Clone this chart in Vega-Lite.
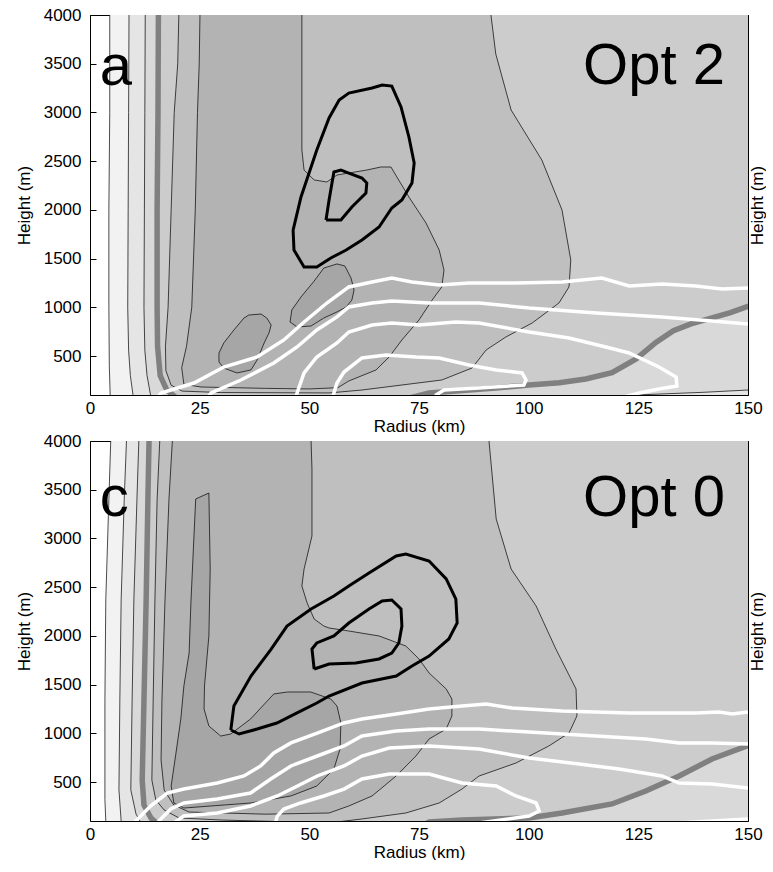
{
"$schema":"https://vega.github.io/schema/vega-lite/v6.json",
"padding":{"left":15,"top":6,"right":0,"bottom":0},
"bounds":"flush","spacing":46,"background":"white",
"config":{"view":{"stroke":null},"font":"Liberation Sans",
"axis":{"domain":true,"domainColor":"black","domainWidth":1,"tickColor":"black","tickSize":-6,"labelFontSize":17,"titleFontSize":17,"labelColor":"black","titleColor":"black","titleFontWeight":"normal","labelFont":"Liberation Sans","titleFont":"Liberation Sans","grid":false,"zindex":1,"labelOverlap":false,"labelFlush":false,"minExtent":0}},
"datasets":{
"fills":[
{"pan":"a","id":"a1","lev":1,"o":0,"x":4.5,"y":4100},{"pan":"a","id":"a1","lev":1,"o":1,"x":4.5,"y":3000},{"pan":"a","id":"a1","lev":1,"o":2,"x":4.3,"y":2000},{"pan":"a","id":"a1","lev":1,"o":3,"x":4.3,"y":1000},{"pan":"a","id":"a1","lev":1,"o":4,"x":4.4,"y":400},{"pan":"a","id":"a1","lev":1,"o":5,"x":4.6,"y":100},{"pan":"a","id":"a1","lev":1,"o":6,"x":4.8,"y":0},{"pan":"a","id":"a1","lev":1,"o":7,"x":160,"y":0},{"pan":"a","id":"a1","lev":1,"o":8,"x":160,"y":4100},
{"pan":"a","id":"a2","lev":2,"o":0,"x":8.9,"y":4100},{"pan":"a","id":"a2","lev":2,"o":1,"x":8.8,"y":3000},{"pan":"a","id":"a2","lev":2,"o":2,"x":8.7,"y":2000},{"pan":"a","id":"a2","lev":2,"o":3,"x":8.6,"y":1000},{"pan":"a","id":"a2","lev":2,"o":4,"x":8.8,"y":560},{"pan":"a","id":"a2","lev":2,"o":5,"x":9.2,"y":300},{"pan":"a","id":"a2","lev":2,"o":6,"x":9.8,"y":100},{"pan":"a","id":"a2","lev":2,"o":7,"x":10.3,"y":0},{"pan":"a","id":"a2","lev":2,"o":8,"x":160,"y":0},{"pan":"a","id":"a2","lev":2,"o":9,"x":160,"y":4100},
{"pan":"a","id":"a3","lev":3,"o":0,"x":12.6,"y":4100},{"pan":"a","id":"a3","lev":3,"o":1,"x":12.5,"y":3000},{"pan":"a","id":"a3","lev":3,"o":2,"x":12.4,"y":2000},{"pan":"a","id":"a3","lev":3,"o":3,"x":12.3,"y":1000},{"pan":"a","id":"a3","lev":3,"o":4,"x":12.5,"y":560},{"pan":"a","id":"a3","lev":3,"o":5,"x":13.0,"y":300},{"pan":"a","id":"a3","lev":3,"o":6,"x":13.8,"y":100},{"pan":"a","id":"a3","lev":3,"o":7,"x":14.5,"y":0},{"pan":"a","id":"a3","lev":3,"o":8,"x":160,"y":0},{"pan":"a","id":"a3","lev":3,"o":9,"x":160,"y":4100},
{"pan":"a","id":"a3h","lev":2,"o":0,"x":122,"y":0},{"pan":"a","id":"a3h","lev":2,"o":1,"x":124.5,"y":100},{"pan":"a","id":"a3h","lev":2,"o":2,"x":130,"y":110},{"pan":"a","id":"a3h","lev":2,"o":3,"x":140,"y":128},{"pan":"a","id":"a3h","lev":2,"o":4,"x":150,"y":151},{"pan":"a","id":"a3h","lev":2,"o":5,"x":160,"y":160},{"pan":"a","id":"a3h","lev":2,"o":6,"x":160,"y":0},
{"pan":"a","id":"a4","lev":4,"o":0,"x":15.6,"y":4100},{"pan":"a","id":"a4","lev":4,"o":1,"x":15.5,"y":3000},{"pan":"a","id":"a4","lev":4,"o":2,"x":15.3,"y":2000},{"pan":"a","id":"a4","lev":4,"o":3,"x":15.3,"y":1000},{"pan":"a","id":"a4","lev":4,"o":4,"x":15.4,"y":600},{"pan":"a","id":"a4","lev":4,"o":5,"x":16.0,"y":300},{"pan":"a","id":"a4","lev":4,"o":6,"x":17.5,"y":150},{"pan":"a","id":"a4","lev":4,"o":7,"x":20,"y":60},{"pan":"a","id":"a4","lev":4,"o":8,"x":40,"y":40},{"pan":"a","id":"a4","lev":4,"o":9,"x":72,"y":60},{"pan":"a","id":"a4","lev":4,"o":10,"x":77.3,"y":121},{"pan":"a","id":"a4","lev":4,"o":11,"x":85,"y":145},{"pan":"a","id":"a4","lev":4,"o":12,"x":92.5,"y":172},{"pan":"a","id":"a4","lev":4,"o":13,"x":100.1,"y":203},{"pan":"a","id":"a4","lev":4,"o":14,"x":107,"y":225},{"pan":"a","id":"a4","lev":4,"o":15,"x":113,"y":265},{"pan":"a","id":"a4","lev":4,"o":16,"x":119,"y":330},{"pan":"a","id":"a4","lev":4,"o":17,"x":124.5,"y":470},{"pan":"a","id":"a4","lev":4,"o":18,"x":129,"y":640},{"pan":"a","id":"a4","lev":4,"o":19,"x":133,"y":760},{"pan":"a","id":"a4","lev":4,"o":20,"x":137,"y":830},{"pan":"a","id":"a4","lev":4,"o":21,"x":142,"y":895},{"pan":"a","id":"a4","lev":4,"o":22,"x":146,"y":945},{"pan":"a","id":"a4","lev":4,"o":23,"x":150,"y":1010},{"pan":"a","id":"a4","lev":4,"o":24,"x":160,"y":1100},{"pan":"a","id":"a4","lev":4,"o":25,"x":160,"y":4100},
{"pan":"a","id":"a5","lev":5,"o":0,"x":20.3,"y":4100},{"pan":"a","id":"a5","lev":5,"o":1,"x":20.0,"y":3500},{"pan":"a","id":"a5","lev":5,"o":2,"x":19.2,"y":3000},{"pan":"a","id":"a5","lev":5,"o":3,"x":18.5,"y":2000},{"pan":"a","id":"a5","lev":5,"o":4,"x":17.8,"y":1000},{"pan":"a","id":"a5","lev":5,"o":5,"x":17.2,"y":600},{"pan":"a","id":"a5","lev":5,"o":6,"x":17.3,"y":350},{"pan":"a","id":"a5","lev":5,"o":7,"x":18.5,"y":200},{"pan":"a","id":"a5","lev":5,"o":8,"x":21,"y":140},{"pan":"a","id":"a5","lev":5,"o":9,"x":30,"y":125},{"pan":"a","id":"a5","lev":5,"o":10,"x":54.5,"y":121},{"pan":"a","id":"a5","lev":5,"o":11,"x":62.0,"y":151},{"pan":"a","id":"a5","lev":5,"o":12,"x":80.2,"y":254},{"pan":"a","id":"a5","lev":5,"o":13,"x":87.1,"y":377},{"pan":"a","id":"a5","lev":5,"o":14,"x":90.3,"y":562},{"pan":"a","id":"a5","lev":5,"o":15,"x":94.8,"y":695},{"pan":"a","id":"a5","lev":5,"o":16,"x":100.8,"y":839},{"pan":"a","id":"a5","lev":5,"o":17,"x":106.9,"y":1044},{"pan":"a","id":"a5","lev":5,"o":18,"x":109.2,"y":1209},{"pan":"a","id":"a5","lev":5,"o":19,"x":109.6,"y":1486},{"pan":"a","id":"a5","lev":5,"o":20,"x":107.6,"y":1999},{"pan":"a","id":"a5","lev":5,"o":21,"x":103.0,"y":2512},{"pan":"a","id":"a5","lev":5,"o":22,"x":96.0,"y":3025},{"pan":"a","id":"a5","lev":5,"o":23,"x":92.5,"y":3600},{"pan":"a","id":"a5","lev":5,"o":24,"x":91.4,"y":4000},{"pan":"a","id":"a5","lev":5,"o":25,"x":91.3,"y":4100},
{"pan":"a","id":"a6","lev":6,"o":0,"x":25.1,"y":4100},{"pan":"a","id":"a6","lev":6,"o":1,"x":24.9,"y":3500},{"pan":"a","id":"a6","lev":6,"o":2,"x":24.5,"y":3000},{"pan":"a","id":"a6","lev":6,"o":3,"x":24.0,"y":2000},{"pan":"a","id":"a6","lev":6,"o":4,"x":23.2,"y":1000},{"pan":"a","id":"a6","lev":6,"o":5,"x":22.0,"y":600},{"pan":"a","id":"a6","lev":6,"o":6,"x":20.9,"y":380},{"pan":"a","id":"a6","lev":6,"o":7,"x":21.4,"y":210},{"pan":"a","id":"a6","lev":6,"o":8,"x":25.3,"y":182},{"pan":"a","id":"a6","lev":6,"o":9,"x":40,"y":168},{"pan":"a","id":"a6","lev":6,"o":10,"x":50,"y":162},{"pan":"a","id":"a6","lev":6,"o":11,"x":56.5,"y":175},{"pan":"a","id":"a6","lev":6,"o":12,"x":59.0,"y":244},{"pan":"a","id":"a6","lev":6,"o":13,"x":65.2,"y":357},{"pan":"a","id":"a6","lev":6,"o":14,"x":68.2,"y":490},{"pan":"a","id":"a6","lev":6,"o":15,"x":71.1,"y":665},{"pan":"a","id":"a6","lev":6,"o":16,"x":75.0,"y":870},{"pan":"a","id":"a6","lev":6,"o":17,"x":78.0,"y":1075},{"pan":"a","id":"a6","lev":6,"o":18,"x":80.2,"y":1209},{"pan":"a","id":"a6","lev":6,"o":19,"x":80.7,"y":1383},{"pan":"a","id":"a6","lev":6,"o":20,"x":79.6,"y":1588},{"pan":"a","id":"a6","lev":6,"o":21,"x":76.6,"y":1865},{"pan":"a","id":"a6","lev":6,"o":22,"x":72.7,"y":2132},{"pan":"a","id":"a6","lev":6,"o":23,"x":68.6,"y":2440},{"pan":"a","id":"a6","lev":6,"o":24,"x":66.3,"y":2440},{"pan":"a","id":"a6","lev":6,"o":25,"x":63.1,"y":2409},{"pan":"a","id":"a6","lev":6,"o":26,"x":56.3,"y":2358},{"pan":"a","id":"a6","lev":6,"o":27,"x":54.0,"y":2286},{"pan":"a","id":"a6","lev":6,"o":28,"x":51.1,"y":2307},{"pan":"a","id":"a6","lev":6,"o":29,"x":48.8,"y":2409},{"pan":"a","id":"a6","lev":6,"o":30,"x":48.3,"y":2614},{"pan":"a","id":"a6","lev":6,"o":31,"x":48.3,"y":4000},{"pan":"a","id":"a6","lev":6,"o":32,"x":48.3,"y":4100},
{"pan":"a","id":"a7a","lev":7,"o":0,"x":29.4,"y":531},{"pan":"a","id":"a7a","lev":7,"o":1,"x":30.5,"y":634},{"pan":"a","id":"a7a","lev":7,"o":2,"x":32.8,"y":767},{"pan":"a","id":"a7a","lev":7,"o":3,"x":35.1,"y":890},{"pan":"a","id":"a7a","lev":7,"o":4,"x":36.2,"y":921},{"pan":"a","id":"a7a","lev":7,"o":5,"x":39.0,"y":931},{"pan":"a","id":"a7a","lev":7,"o":6,"x":40.3,"y":890},{"pan":"a","id":"a7a","lev":7,"o":7,"x":41.3,"y":818},{"pan":"a","id":"a7a","lev":7,"o":8,"x":40.8,"y":736},{"pan":"a","id":"a7a","lev":7,"o":9,"x":39.7,"y":634},{"pan":"a","id":"a7a","lev":7,"o":10,"x":38.1,"y":459},{"pan":"a","id":"a7a","lev":7,"o":11,"x":36.7,"y":357},{"pan":"a","id":"a7a","lev":7,"o":12,"x":33.5,"y":326},{"pan":"a","id":"a7a","lev":7,"o":13,"x":30.5,"y":377},{"pan":"a","id":"a7a","lev":7,"o":14,"x":29.4,"y":439},{"pan":"a","id":"a7a","lev":7,"o":15,"x":29.4,"y":531},
{"pan":"a","id":"a7b","lev":7,"o":0,"x":45.6,"y":849},{"pan":"a","id":"a7b","lev":7,"o":1,"x":46.0,"y":972},{"pan":"a","id":"a7b","lev":7,"o":2,"x":48.1,"y":1106},{"pan":"a","id":"a7b","lev":7,"o":3,"x":51.1,"y":1270},{"pan":"a","id":"a7b","lev":7,"o":4,"x":53.3,"y":1403},{"pan":"a","id":"a7b","lev":7,"o":5,"x":56.3,"y":1445},{"pan":"a","id":"a7b","lev":7,"o":6,"x":58.1,"y":1424},{"pan":"a","id":"a7b","lev":7,"o":7,"x":59.5,"y":1301},{"pan":"a","id":"a7b","lev":7,"o":8,"x":60.2,"y":1178},{"pan":"a","id":"a7b","lev":7,"o":9,"x":59.7,"y":1075},{"pan":"a","id":"a7b","lev":7,"o":10,"x":58.4,"y":1003},{"pan":"a","id":"a7b","lev":7,"o":11,"x":56.3,"y":952},{"pan":"a","id":"a7b","lev":7,"o":12,"x":53.3,"y":890},{"pan":"a","id":"a7b","lev":7,"o":13,"x":50.4,"y":808},{"pan":"a","id":"a7b","lev":7,"o":14,"x":47.2,"y":798},{"pan":"a","id":"a7b","lev":7,"o":15,"x":45.6,"y":849},
{"pan":"c","id":"c1","lev":1,"o":0,"x":4.8,"y":4100},{"pan":"c","id":"c1","lev":1,"o":1,"x":4.3,"y":3400},{"pan":"c","id":"c1","lev":1,"o":2,"x":3.6,"y":2370},{"pan":"c","id":"c1","lev":1,"o":3,"x":3.4,"y":1340},{"pan":"c","id":"c1","lev":1,"o":4,"x":3.4,"y":320},{"pan":"c","id":"c1","lev":1,"o":5,"x":3.6,"y":100},{"pan":"c","id":"c1","lev":1,"o":6,"x":3.8,"y":0},{"pan":"c","id":"c1","lev":1,"o":7,"x":160,"y":0},{"pan":"c","id":"c1","lev":1,"o":8,"x":160,"y":4100},
{"pan":"c","id":"c2","lev":2,"o":0,"x":8.4,"y":4100},{"pan":"c","id":"c2","lev":2,"o":1,"x":7.8,"y":3400},{"pan":"c","id":"c2","lev":2,"o":2,"x":7.1,"y":2370},{"pan":"c","id":"c2","lev":2,"o":3,"x":6.8,"y":1340},{"pan":"c","id":"c2","lev":2,"o":4,"x":6.6,"y":420},{"pan":"c","id":"c2","lev":2,"o":5,"x":7.1,"y":100},{"pan":"c","id":"c2","lev":2,"o":6,"x":7.5,"y":0},{"pan":"c","id":"c2","lev":2,"o":7,"x":160,"y":0},{"pan":"c","id":"c2","lev":2,"o":8,"x":160,"y":4100},
{"pan":"c","id":"c3","lev":3,"o":0,"x":11.2,"y":4100},{"pan":"c","id":"c3","lev":3,"o":1,"x":10.7,"y":3400},{"pan":"c","id":"c3","lev":3,"o":2,"x":10.0,"y":2370},{"pan":"c","id":"c3","lev":3,"o":3,"x":9.6,"y":1340},{"pan":"c","id":"c3","lev":3,"o":4,"x":9.3,"y":420},{"pan":"c","id":"c3","lev":3,"o":5,"x":10.5,"y":170},{"pan":"c","id":"c3","lev":3,"o":6,"x":11.4,"y":100},{"pan":"c","id":"c3","lev":3,"o":7,"x":12.5,"y":0},{"pan":"c","id":"c3","lev":3,"o":8,"x":160,"y":0},{"pan":"c","id":"c3","lev":3,"o":9,"x":160,"y":4100},
{"pan":"c","id":"c4","lev":4,"o":0,"x":13.5,"y":4100},{"pan":"c","id":"c4","lev":4,"o":1,"x":13.2,"y":3400},{"pan":"c","id":"c4","lev":4,"o":2,"x":12.8,"y":2370},{"pan":"c","id":"c4","lev":4,"o":3,"x":12.3,"y":1340},{"pan":"c","id":"c4","lev":4,"o":4,"x":11.9,"y":520},{"pan":"c","id":"c4","lev":4,"o":5,"x":12.3,"y":265},{"pan":"c","id":"c4","lev":4,"o":6,"x":13.9,"y":130},{"pan":"c","id":"c4","lev":4,"o":7,"x":15.7,"y":60},{"pan":"c","id":"c4","lev":4,"o":8,"x":30,"y":40},{"pan":"c","id":"c4","lev":4,"o":9,"x":76,"y":60},{"pan":"c","id":"c4","lev":4,"o":10,"x":77.3,"y":90},{"pan":"c","id":"c4","lev":4,"o":11,"x":84.8,"y":110},{"pan":"c","id":"c4","lev":4,"o":12,"x":100.1,"y":131},{"pan":"c","id":"c4","lev":4,"o":13,"x":107.6,"y":182},{"pan":"c","id":"c4","lev":4,"o":14,"x":119.0,"y":275},{"pan":"c","id":"c4","lev":4,"o":15,"x":126.7,"y":408},{"pan":"c","id":"c4","lev":4,"o":16,"x":134.3,"y":562},{"pan":"c","id":"c4","lev":4,"o":17,"x":141.8,"y":736},{"pan":"c","id":"c4","lev":4,"o":18,"x":149.8,"y":870},{"pan":"c","id":"c4","lev":4,"o":19,"x":155,"y":950},{"pan":"c","id":"c4","lev":4,"o":20,"x":160,"y":1000},{"pan":"c","id":"c4","lev":4,"o":21,"x":160,"y":4100},
{"pan":"c","id":"c5","lev":5,"o":0,"x":16.0,"y":4100},{"pan":"c","id":"c5","lev":5,"o":1,"x":15.3,"y":3400},{"pan":"c","id":"c5","lev":5,"o":2,"x":14.8,"y":2370},{"pan":"c","id":"c5","lev":5,"o":3,"x":14.4,"y":1340},{"pan":"c","id":"c5","lev":5,"o":4,"x":14.1,"y":520},{"pan":"c","id":"c5","lev":5,"o":5,"x":15.0,"y":316},{"pan":"c","id":"c5","lev":5,"o":6,"x":16.9,"y":213},{"pan":"c","id":"c5","lev":5,"o":7,"x":20.3,"y":131},{"pan":"c","id":"c5","lev":5,"o":8,"x":30,"y":110},{"pan":"c","id":"c5","lev":5,"o":9,"x":54.5,"y":80},{"pan":"c","id":"c5","lev":5,"o":10,"x":62.0,"y":121},{"pan":"c","id":"c5","lev":5,"o":11,"x":72.0,"y":182},{"pan":"c","id":"c5","lev":5,"o":12,"x":79.6,"y":285},{"pan":"c","id":"c5","lev":5,"o":13,"x":84.8,"y":428},{"pan":"c","id":"c5","lev":5,"o":14,"x":88.7,"y":562},{"pan":"c","id":"c5","lev":5,"o":15,"x":97.1,"y":695},{"pan":"c","id":"c5","lev":5,"o":16,"x":104.6,"y":870},{"pan":"c","id":"c5","lev":5,"o":17,"x":109.2,"y":1003},{"pan":"c","id":"c5","lev":5,"o":18,"x":111.0,"y":1178},{"pan":"c","id":"c5","lev":5,"o":19,"x":110.8,"y":1455},{"pan":"c","id":"c5","lev":5,"o":20,"x":106.2,"y":1865},{"pan":"c","id":"c5","lev":5,"o":21,"x":101.7,"y":2307},{"pan":"c","id":"c5","lev":5,"o":22,"x":96.0,"y":2686},{"pan":"c","id":"c5","lev":5,"o":23,"x":92.6,"y":3199},{"pan":"c","id":"c5","lev":5,"o":24,"x":91.0,"y":3979},{"pan":"c","id":"c5","lev":5,"o":25,"x":90.9,"y":4100},
{"pan":"c","id":"c6","lev":6,"o":0,"x":18.9,"y":4100},{"pan":"c","id":"c6","lev":6,"o":1,"x":18.0,"y":3400},{"pan":"c","id":"c6","lev":6,"o":2,"x":17.1,"y":2370},{"pan":"c","id":"c6","lev":6,"o":3,"x":16.4,"y":1340},{"pan":"c","id":"c6","lev":6,"o":4,"x":16.2,"y":726},{"pan":"c","id":"c6","lev":6,"o":5,"x":16.9,"y":418},{"pan":"c","id":"c6","lev":6,"o":6,"x":19.1,"y":264},{"pan":"c","id":"c6","lev":6,"o":7,"x":22.6,"y":192},{"pan":"c","id":"c6","lev":6,"o":8,"x":40,"y":170},{"pan":"c","id":"c6","lev":6,"o":9,"x":54.5,"y":182},{"pan":"c","id":"c6","lev":6,"o":10,"x":59.0,"y":254},{"pan":"c","id":"c6","lev":6,"o":11,"x":64.3,"y":357},{"pan":"c","id":"c6","lev":6,"o":12,"x":69.8,"y":562},{"pan":"c","id":"c6","lev":6,"o":13,"x":74.3,"y":767},{"pan":"c","id":"c6","lev":6,"o":14,"x":77.3,"y":942},{"pan":"c","id":"c6","lev":6,"o":15,"x":81.2,"y":1044},{"pan":"c","id":"c6","lev":6,"o":16,"x":82.5,"y":1178},{"pan":"c","id":"c6","lev":6,"o":17,"x":82.5,"y":1352},{"pan":"c","id":"c6","lev":6,"o":18,"x":81.2,"y":1455},{"pan":"c","id":"c6","lev":6,"o":19,"x":77.3,"y":1619},{"pan":"c","id":"c6","lev":6,"o":20,"x":75.0,"y":1763},{"pan":"c","id":"c6","lev":6,"o":21,"x":72.0,"y":1896},{"pan":"c","id":"c6","lev":6,"o":22,"x":65.9,"y":1999},{"pan":"c","id":"c6","lev":6,"o":23,"x":59.0,"y":2050},{"pan":"c","id":"c6","lev":6,"o":24,"x":54.5,"y":2081},{"pan":"c","id":"c6","lev":6,"o":25,"x":53.3,"y":2101},{"pan":"c","id":"c6","lev":6,"o":26,"x":51.1,"y":2173},{"pan":"c","id":"c6","lev":6,"o":27,"x":49.5,"y":2338},{"pan":"c","id":"c6","lev":6,"o":28,"x":48.3,"y":2512},{"pan":"c","id":"c6","lev":6,"o":29,"x":48.8,"y":2686},{"pan":"c","id":"c6","lev":6,"o":30,"x":50.6,"y":3025},{"pan":"c","id":"c6","lev":6,"o":31,"x":50.6,"y":3713},{"pan":"c","id":"c6","lev":6,"o":32,"x":50.4,"y":4000},{"pan":"c","id":"c6","lev":6,"o":33,"x":50.4,"y":4100},
{"pan":"c","id":"c7","lev":7,"o":0,"x":24.1,"y":3405},{"pan":"c","id":"c7","lev":7,"o":1,"x":27.1,"y":3466},{"pan":"c","id":"c7","lev":7,"o":2,"x":27.4,"y":2686},{"pan":"c","id":"c7","lev":7,"o":3,"x":27.1,"y":1999},{"pan":"c","id":"c7","lev":7,"o":4,"x":26.1,"y":1486},{"pan":"c","id":"c7","lev":7,"o":5,"x":26.0,"y":1250},{"pan":"c","id":"c7","lev":7,"o":6,"x":27.1,"y":1075},{"pan":"c","id":"c7","lev":7,"o":7,"x":29.8,"y":972},{"pan":"c","id":"c7","lev":7,"o":8,"x":32.1,"y":993},{"pan":"c","id":"c7","lev":7,"o":9,"x":36.6,"y":1147},{"pan":"c","id":"c7","lev":7,"o":10,"x":41.9,"y":1404},{"pan":"c","id":"c7","lev":7,"o":11,"x":45.0,"y":1424},{"pan":"c","id":"c7","lev":7,"o":12,"x":50.3,"y":1424},{"pan":"c","id":"c7","lev":7,"o":13,"x":54.9,"y":1352},{"pan":"c","id":"c7","lev":7,"o":14,"x":56.3,"y":1280},{"pan":"c","id":"c7","lev":7,"o":15,"x":57.2,"y":1106},{"pan":"c","id":"c7","lev":7,"o":16,"x":57.0,"y":839},{"pan":"c","id":"c7","lev":7,"o":17,"x":55.6,"y":634},{"pan":"c","id":"c7","lev":7,"o":18,"x":51.7,"y":459},{"pan":"c","id":"c7","lev":7,"o":19,"x":45.8,"y":357},{"pan":"c","id":"c7","lev":7,"o":20,"x":36.7,"y":285},{"pan":"c","id":"c7","lev":7,"o":21,"x":27.6,"y":254},{"pan":"c","id":"c7","lev":7,"o":22,"x":21.4,"y":233},{"pan":"c","id":"c7","lev":7,"o":23,"x":19.1,"y":285},{"pan":"c","id":"c7","lev":7,"o":24,"x":18.5,"y":459},{"pan":"c","id":"c7","lev":7,"o":25,"x":19.6,"y":798},{"pan":"c","id":"c7","lev":7,"o":26,"x":20.7,"y":1147},{"pan":"c","id":"c7","lev":7,"o":27,"x":21.4,"y":1486},{"pan":"c","id":"c7","lev":7,"o":28,"x":22.6,"y":1824},{"pan":"c","id":"c7","lev":7,"o":29,"x":23.0,"y":2338},{"pan":"c","id":"c7","lev":7,"o":30,"x":23.7,"y":3025},{"pan":"c","id":"c7","lev":7,"o":31,"x":24.1,"y":3405}
],
"lines":[
{"pan":"a","id":"ga1","k":"g","o":0,"x":15.6,"y":4100},{"pan":"a","id":"ga1","k":"g","o":1,"x":15.5,"y":3000},{"pan":"a","id":"ga1","k":"g","o":2,"x":15.3,"y":2000},{"pan":"a","id":"ga1","k":"g","o":3,"x":15.3,"y":1000},{"pan":"a","id":"ga1","k":"g","o":4,"x":15.4,"y":600},{"pan":"a","id":"ga1","k":"g","o":5,"x":16.0,"y":300},{"pan":"a","id":"ga1","k":"g","o":6,"x":17.5,"y":150},{"pan":"a","id":"ga1","k":"g","o":7,"x":20,"y":60},
{"pan":"a","id":"ga2","k":"g","o":0,"x":72,"y":60},{"pan":"a","id":"ga2","k":"g","o":1,"x":77.3,"y":121},{"pan":"a","id":"ga2","k":"g","o":2,"x":85,"y":145},{"pan":"a","id":"ga2","k":"g","o":3,"x":92.5,"y":172},{"pan":"a","id":"ga2","k":"g","o":4,"x":100.1,"y":203},{"pan":"a","id":"ga2","k":"g","o":5,"x":107,"y":225},{"pan":"a","id":"ga2","k":"g","o":6,"x":113,"y":265},{"pan":"a","id":"ga2","k":"g","o":7,"x":119,"y":330},{"pan":"a","id":"ga2","k":"g","o":8,"x":124.5,"y":470},{"pan":"a","id":"ga2","k":"g","o":9,"x":129,"y":640},{"pan":"a","id":"ga2","k":"g","o":10,"x":133,"y":760},{"pan":"a","id":"ga2","k":"g","o":11,"x":137,"y":830},{"pan":"a","id":"ga2","k":"g","o":12,"x":142,"y":895},{"pan":"a","id":"ga2","k":"g","o":13,"x":146,"y":945},{"pan":"a","id":"ga2","k":"g","o":14,"x":150,"y":1010},{"pan":"a","id":"ga2","k":"g","o":15,"x":153,"y":1050},
{"pan":"a","id":"ba1","k":"b","o":0,"x":46.3,"y":1793},{"pan":"a","id":"ba1","k":"b","o":1,"x":46.5,"y":1588},{"pan":"a","id":"ba1","k":"b","o":2,"x":48.8,"y":1414},{"pan":"a","id":"ba1","k":"b","o":3,"x":51.7,"y":1414},{"pan":"a","id":"ba1","k":"b","o":4,"x":54.9,"y":1506},{"pan":"a","id":"ba1","k":"b","o":5,"x":58.4,"y":1588},{"pan":"a","id":"ba1","k":"b","o":6,"x":62.0,"y":1691},{"pan":"a","id":"ba1","k":"b","o":7,"x":65.9,"y":1824},{"pan":"a","id":"ba1","k":"b","o":8,"x":68.8,"y":2019},{"pan":"a","id":"ba1","k":"b","o":9,"x":71.1,"y":2101},{"pan":"a","id":"ba1","k":"b","o":10,"x":73.4,"y":2276},{"pan":"a","id":"ba1","k":"b","o":11,"x":73.9,"y":2481},{"pan":"a","id":"ba1","k":"b","o":12,"x":72.7,"y":2748},{"pan":"a","id":"ba1","k":"b","o":13,"x":70.9,"y":3056},{"pan":"a","id":"ba1","k":"b","o":14,"x":68.8,"y":3271},{"pan":"a","id":"ba1","k":"b","o":15,"x":66.6,"y":3282},{"pan":"a","id":"ba1","k":"b","o":16,"x":64.3,"y":3251},{"pan":"a","id":"ba1","k":"b","o":17,"x":59.0,"y":3199},{"pan":"a","id":"ba1","k":"b","o":18,"x":56.8,"y":3128},{"pan":"a","id":"ba1","k":"b","o":19,"x":54.5,"y":2943},{"pan":"a","id":"ba1","k":"b","o":20,"x":51.7,"y":2614},{"pan":"a","id":"ba1","k":"b","o":21,"x":48.1,"y":2132},{"pan":"a","id":"ba1","k":"b","o":22,"x":46.3,"y":1793},
{"pan":"a","id":"ba2","k":"b","o":0,"x":53.8,"y":1896},{"pan":"a","id":"ba2","k":"b","o":1,"x":54.5,"y":2101},{"pan":"a","id":"ba2","k":"b","o":2,"x":55.6,"y":2389},{"pan":"a","id":"ba2","k":"b","o":3,"x":57.2,"y":2409},{"pan":"a","id":"ba2","k":"b","o":4,"x":59.0,"y":2378},{"pan":"a","id":"ba2","k":"b","o":5,"x":62.0,"y":2327},{"pan":"a","id":"ba2","k":"b","o":6,"x":63.1,"y":2276},{"pan":"a","id":"ba2","k":"b","o":7,"x":62.9,"y":2173},{"pan":"a","id":"ba2","k":"b","o":8,"x":59.7,"y":2030},{"pan":"a","id":"ba2","k":"b","o":9,"x":57.2,"y":1896},{"pan":"a","id":"ba2","k":"b","o":10,"x":53.8,"y":1896},
{"pan":"a","id":"wa1","k":"w","o":0,"x":15.0,"y":50},{"pan":"a","id":"wa1","k":"w","o":1,"x":16.2,"y":121},{"pan":"a","id":"wa1","k":"w","o":2,"x":23.7,"y":223},{"pan":"a","id":"wa1","k":"w","o":3,"x":30.5,"y":387},{"pan":"a","id":"wa1","k":"w","o":4,"x":38.1,"y":490},{"pan":"a","id":"wa1","k":"w","o":5,"x":44.2,"y":665},{"pan":"a","id":"wa1","k":"w","o":6,"x":48.8,"y":849},{"pan":"a","id":"wa1","k":"w","o":7,"x":54.0,"y":1044},{"pan":"a","id":"wa1","k":"w","o":8,"x":59.0,"y":1209},{"pan":"a","id":"wa1","k":"w","o":9,"x":64.3,"y":1260},{"pan":"a","id":"wa1","k":"w","o":10,"x":68.8,"y":1301},{"pan":"a","id":"wa1","k":"w","o":11,"x":73.4,"y":1260},{"pan":"a","id":"wa1","k":"w","o":12,"x":79.6,"y":1229},{"pan":"a","id":"wa1","k":"w","o":13,"x":86.4,"y":1250},{"pan":"a","id":"wa1","k":"w","o":14,"x":97.1,"y":1250},{"pan":"a","id":"wa1","k":"w","o":15,"x":107.6,"y":1260},{"pan":"a","id":"wa1","k":"w","o":16,"x":116.7,"y":1301},{"pan":"a","id":"wa1","k":"w","o":17,"x":122.9,"y":1219},{"pan":"a","id":"wa1","k":"w","o":18,"x":130.4,"y":1239},{"pan":"a","id":"wa1","k":"w","o":19,"x":138.1,"y":1219},{"pan":"a","id":"wa1","k":"w","o":20,"x":144.1,"y":1188},{"pan":"a","id":"wa1","k":"w","o":21,"x":150,"y":1198},
{"pan":"a","id":"wa2","k":"w","o":0,"x":26.5,"y":50},{"pan":"a","id":"wa2","k":"w","o":1,"x":27.6,"y":121},{"pan":"a","id":"wa2","k":"w","o":2,"x":34.4,"y":254},{"pan":"a","id":"wa2","k":"w","o":3,"x":41.9,"y":428},{"pan":"a","id":"wa2","k":"w","o":4,"x":47.2,"y":593},{"pan":"a","id":"wa2","k":"w","o":5,"x":51.7,"y":767},{"pan":"a","id":"wa2","k":"w","o":6,"x":56.3,"y":901},{"pan":"a","id":"wa2","k":"w","o":7,"x":59.0,"y":1003},{"pan":"a","id":"wa2","k":"w","o":8,"x":64.3,"y":1044},{"pan":"a","id":"wa2","k":"w","o":9,"x":68.8,"y":1065},{"pan":"a","id":"wa2","k":"w","o":10,"x":77.3,"y":1044},{"pan":"a","id":"wa2","k":"w","o":11,"x":88.7,"y":1044},{"pan":"a","id":"wa2","k":"w","o":12,"x":100.1,"y":993},{"pan":"a","id":"wa2","k":"w","o":13,"x":115.4,"y":942},{"pan":"a","id":"wa2","k":"w","o":14,"x":130.4,"y":901},{"pan":"a","id":"wa2","k":"w","o":15,"x":141.8,"y":860},{"pan":"a","id":"wa2","k":"w","o":16,"x":150,"y":829},
{"pan":"a","id":"wa3","k":"w","o":0,"x":46.8,"y":50},{"pan":"a","id":"wa3","k":"w","o":1,"x":47.2,"y":121},{"pan":"a","id":"wa3","k":"w","o":2,"x":48.8,"y":326},{"pan":"a","id":"wa3","k":"w","o":3,"x":51.7,"y":490},{"pan":"a","id":"wa3","k":"w","o":4,"x":56.3,"y":634},{"pan":"a","id":"wa3","k":"w","o":5,"x":59.0,"y":747},{"pan":"a","id":"wa3","k":"w","o":6,"x":64.3,"y":818},{"pan":"a","id":"wa3","k":"w","o":7,"x":68.8,"y":839},{"pan":"a","id":"wa3","k":"w","o":8,"x":75.0,"y":818},{"pan":"a","id":"wa3","k":"w","o":9,"x":83.4,"y":849},{"pan":"a","id":"wa3","k":"w","o":10,"x":88.7,"y":839},{"pan":"a","id":"wa3","k":"w","o":11,"x":100.1,"y":747},{"pan":"a","id":"wa3","k":"w","o":12,"x":109.2,"y":685},{"pan":"a","id":"wa3","k":"w","o":13,"x":117.6,"y":593},{"pan":"a","id":"wa3","k":"w","o":14,"x":122.9,"y":531},{"pan":"a","id":"wa3","k":"w","o":15,"x":129.7,"y":387},{"pan":"a","id":"wa3","k":"w","o":16,"x":133.6,"y":285},{"pan":"a","id":"wa3","k":"w","o":17,"x":133.8,"y":192},{"pan":"a","id":"wa3","k":"w","o":18,"x":129.7,"y":162},{"pan":"a","id":"wa3","k":"w","o":19,"x":125.2,"y":121},{"pan":"a","id":"wa3","k":"w","o":20,"x":121.7,"y":80},{"pan":"a","id":"wa3","k":"w","o":21,"x":120,"y":50},
{"pan":"a","id":"wa4","k":"w","o":0,"x":55.3,"y":50},{"pan":"a","id":"wa4","k":"w","o":1,"x":55.6,"y":121},{"pan":"a","id":"wa4","k":"w","o":2,"x":56.3,"y":223},{"pan":"a","id":"wa4","k":"w","o":3,"x":57.9,"y":336},{"pan":"a","id":"wa4","k":"w","o":4,"x":62.0,"y":480},{"pan":"a","id":"wa4","k":"w","o":5,"x":67.5,"y":511},{"pan":"a","id":"wa4","k":"w","o":6,"x":74.3,"y":490},{"pan":"a","id":"wa4","k":"w","o":7,"x":79.6,"y":480},{"pan":"a","id":"wa4","k":"w","o":8,"x":86.4,"y":408},{"pan":"a","id":"wa4","k":"w","o":9,"x":92.6,"y":357},{"pan":"a","id":"wa4","k":"w","o":10,"x":98.5,"y":326},{"pan":"a","id":"wa4","k":"w","o":11,"x":99.4,"y":254},{"pan":"a","id":"wa4","k":"w","o":12,"x":98.9,"y":203},{"pan":"a","id":"wa4","k":"w","o":13,"x":88.7,"y":172},{"pan":"a","id":"wa4","k":"w","o":14,"x":80.7,"y":151},{"pan":"a","id":"wa4","k":"w","o":15,"x":78.9,"y":100},{"pan":"a","id":"wa4","k":"w","o":16,"x":78.4,"y":50},
{"pan":"c","id":"gc1","k":"g","o":0,"x":13.5,"y":4100},{"pan":"c","id":"gc1","k":"g","o":1,"x":13.2,"y":3400},{"pan":"c","id":"gc1","k":"g","o":2,"x":12.8,"y":2370},{"pan":"c","id":"gc1","k":"g","o":3,"x":12.3,"y":1340},{"pan":"c","id":"gc1","k":"g","o":4,"x":11.9,"y":520},{"pan":"c","id":"gc1","k":"g","o":5,"x":12.3,"y":265},{"pan":"c","id":"gc1","k":"g","o":6,"x":13.9,"y":130},{"pan":"c","id":"gc1","k":"g","o":7,"x":15.7,"y":60},
{"pan":"c","id":"gc2","k":"g","o":0,"x":76,"y":60},{"pan":"c","id":"gc2","k":"g","o":1,"x":77.3,"y":90},{"pan":"c","id":"gc2","k":"g","o":2,"x":84.8,"y":110},{"pan":"c","id":"gc2","k":"g","o":3,"x":100.1,"y":131},{"pan":"c","id":"gc2","k":"g","o":4,"x":107.6,"y":182},{"pan":"c","id":"gc2","k":"g","o":5,"x":119.0,"y":275},{"pan":"c","id":"gc2","k":"g","o":6,"x":126.7,"y":408},{"pan":"c","id":"gc2","k":"g","o":7,"x":134.3,"y":562},{"pan":"c","id":"gc2","k":"g","o":8,"x":141.8,"y":736},{"pan":"c","id":"gc2","k":"g","o":9,"x":149.8,"y":870},{"pan":"c","id":"gc2","k":"g","o":10,"x":153,"y":910},
{"pan":"c","id":"bc1","k":"b","o":0,"x":32.1,"y":1034},{"pan":"c","id":"bc1","k":"b","o":1,"x":32.8,"y":1280},{"pan":"c","id":"bc1","k":"b","o":2,"x":36.7,"y":1588},{"pan":"c","id":"bc1","k":"b","o":3,"x":41.3,"y":1865},{"pan":"c","id":"bc1","k":"b","o":4,"x":44.9,"y":2101},{"pan":"c","id":"bc1","k":"b","o":5,"x":50.4,"y":2276},{"pan":"c","id":"bc1","k":"b","o":6,"x":55.6,"y":2409},{"pan":"c","id":"bc1","k":"b","o":7,"x":59.0,"y":2512},{"pan":"c","id":"bc1","k":"b","o":8,"x":63.6,"y":2645},{"pan":"c","id":"bc1","k":"b","o":9,"x":69.8,"y":2820},{"pan":"c","id":"bc1","k":"b","o":10,"x":72.0,"y":2840},{"pan":"c","id":"bc1","k":"b","o":11,"x":77.3,"y":2768},{"pan":"c","id":"bc1","k":"b","o":12,"x":81.2,"y":2584},{"pan":"c","id":"bc1","k":"b","o":13,"x":83.4,"y":2378},{"pan":"c","id":"bc1","k":"b","o":14,"x":83.7,"y":2132},{"pan":"c","id":"bc1","k":"b","o":15,"x":81.8,"y":1968},{"pan":"c","id":"bc1","k":"b","o":16,"x":77.3,"y":1793},{"pan":"c","id":"bc1","k":"b","o":17,"x":73.4,"y":1691},{"pan":"c","id":"bc1","k":"b","o":18,"x":69.8,"y":1588},{"pan":"c","id":"bc1","k":"b","o":19,"x":62.0,"y":1516},{"pan":"c","id":"bc1","k":"b","o":20,"x":54.5,"y":1383},{"pan":"c","id":"bc1","k":"b","o":21,"x":51.7,"y":1311},{"pan":"c","id":"bc1","k":"b","o":22,"x":47.2,"y":1209},{"pan":"c","id":"bc1","k":"b","o":23,"x":42.6,"y":1106},{"pan":"c","id":"bc1","k":"b","o":24,"x":38.1,"y":1044},{"pan":"c","id":"bc1","k":"b","o":25,"x":34.0,"y":993},{"pan":"c","id":"bc1","k":"b","o":26,"x":32.1,"y":1034},
{"pan":"c","id":"bc2","k":"b","o":0,"x":51.1,"y":1660},{"pan":"c","id":"bc2","k":"b","o":1,"x":50.6,"y":1865},{"pan":"c","id":"bc2","k":"b","o":2,"x":51.7,"y":1927},{"pan":"c","id":"bc2","k":"b","o":3,"x":55.6,"y":1999},{"pan":"c","id":"bc2","k":"b","o":4,"x":59.0,"y":2132},{"pan":"c","id":"bc2","k":"b","o":5,"x":63.6,"y":2276},{"pan":"c","id":"bc2","k":"b","o":6,"x":66.6,"y":2358},{"pan":"c","id":"bc2","k":"b","o":7,"x":68.8,"y":2368},{"pan":"c","id":"bc2","k":"b","o":8,"x":70.9,"y":2276},{"pan":"c","id":"bc2","k":"b","o":9,"x":71.1,"y":2101},{"pan":"c","id":"bc2","k":"b","o":10,"x":70.4,"y":1927},{"pan":"c","id":"bc2","k":"b","o":11,"x":68.8,"y":1824},{"pan":"c","id":"bc2","k":"b","o":12,"x":65.9,"y":1763},{"pan":"c","id":"bc2","k":"b","o":13,"x":60.6,"y":1722},{"pan":"c","id":"bc2","k":"b","o":14,"x":54.5,"y":1711},{"pan":"c","id":"bc2","k":"b","o":15,"x":51.1,"y":1660},
{"pan":"c","id":"wc1","k":"w","o":0,"x":10.0,"y":80},{"pan":"c","id":"wc1","k":"w","o":1,"x":13.8,"y":254},{"pan":"c","id":"wc1","k":"w","o":2,"x":17.6,"y":387},{"pan":"c","id":"wc1","k":"w","o":3,"x":21.4,"y":428},{"pan":"c","id":"wc1","k":"w","o":4,"x":29.0,"y":490},{"pan":"c","id":"wc1","k":"w","o":5,"x":35.1,"y":562},{"pan":"c","id":"wc1","k":"w","o":6,"x":38.9,"y":665},{"pan":"c","id":"wc1","k":"w","o":7,"x":41.9,"y":798},{"pan":"c","id":"wc1","k":"w","o":8,"x":45.8,"y":901},{"pan":"c","id":"wc1","k":"w","o":9,"x":51.8,"y":1003},{"pan":"c","id":"wc1","k":"w","o":10,"x":57.9,"y":1106},{"pan":"c","id":"wc1","k":"w","o":11,"x":62.0,"y":1147},{"pan":"c","id":"wc1","k":"w","o":12,"x":69.8,"y":1198},{"pan":"c","id":"wc1","k":"w","o":13,"x":77.3,"y":1250},{"pan":"c","id":"wc1","k":"w","o":14,"x":84.8,"y":1280},{"pan":"c","id":"wc1","k":"w","o":15,"x":90.3,"y":1301},{"pan":"c","id":"wc1","k":"w","o":16,"x":96.2,"y":1260},{"pan":"c","id":"wc1","k":"w","o":17,"x":107.6,"y":1229},{"pan":"c","id":"wc1","k":"w","o":18,"x":122.9,"y":1209},{"pan":"c","id":"wc1","k":"w","o":19,"x":138.1,"y":1209},{"pan":"c","id":"wc1","k":"w","o":20,"x":143.4,"y":1219},{"pan":"c","id":"wc1","k":"w","o":21,"x":146.4,"y":1198},{"pan":"c","id":"wc1","k":"w","o":22,"x":150,"y":1219},
{"pan":"c","id":"wc2","k":"w","o":0,"x":15.3,"y":80},{"pan":"c","id":"wc2","k":"w","o":1,"x":18.4,"y":223},{"pan":"c","id":"wc2","k":"w","o":2,"x":21.4,"y":285},{"pan":"c","id":"wc2","k":"w","o":3,"x":29.0,"y":326},{"pan":"c","id":"wc2","k":"w","o":4,"x":36.6,"y":387},{"pan":"c","id":"wc2","k":"w","o":5,"x":41.2,"y":531},{"pan":"c","id":"wc2","k":"w","o":6,"x":45.8,"y":665},{"pan":"c","id":"wc2","k":"w","o":7,"x":51.8,"y":767},{"pan":"c","id":"wc2","k":"w","o":8,"x":57.9,"y":870},{"pan":"c","id":"wc2","k":"w","o":9,"x":62.0,"y":972},{"pan":"c","id":"wc2","k":"w","o":10,"x":69.8,"y":1024},{"pan":"c","id":"wc2","k":"w","o":11,"x":77.3,"y":1044},{"pan":"c","id":"wc2","k":"w","o":12,"x":88.7,"y":1044},{"pan":"c","id":"wc2","k":"w","o":13,"x":100.1,"y":1013},{"pan":"c","id":"wc2","k":"w","o":14,"x":115.3,"y":972},{"pan":"c","id":"wc2","k":"w","o":15,"x":126.7,"y":942},{"pan":"c","id":"wc2","k":"w","o":16,"x":134.3,"y":901},{"pan":"c","id":"wc2","k":"w","o":17,"x":141.8,"y":901},{"pan":"c","id":"wc2","k":"w","o":18,"x":150,"y":890},
{"pan":"c","id":"wc3","k":"w","o":0,"x":19.1,"y":80},{"pan":"c","id":"wc3","k":"w","o":1,"x":21.4,"y":151},{"pan":"c","id":"wc3","k":"w","o":2,"x":29.0,"y":182},{"pan":"c","id":"wc3","k":"w","o":3,"x":36.6,"y":254},{"pan":"c","id":"wc3","k":"w","o":4,"x":42.7,"y":357},{"pan":"c","id":"wc3","k":"w","o":5,"x":47.3,"y":459},{"pan":"c","id":"wc3","k":"w","o":6,"x":51.8,"y":562},{"pan":"c","id":"wc3","k":"w","o":7,"x":57.9,"y":665},{"pan":"c","id":"wc3","k":"w","o":8,"x":62.0,"y":767},{"pan":"c","id":"wc3","k":"w","o":9,"x":68.2,"y":849},{"pan":"c","id":"wc3","k":"w","o":10,"x":77.3,"y":870},{"pan":"c","id":"wc3","k":"w","o":11,"x":88.7,"y":839},{"pan":"c","id":"wc3","k":"w","o":12,"x":100.1,"y":747},{"pan":"c","id":"wc3","k":"w","o":13,"x":111.5,"y":685},{"pan":"c","id":"wc3","k":"w","o":14,"x":120.6,"y":634},{"pan":"c","id":"wc3","k":"w","o":15,"x":130.4,"y":562},{"pan":"c","id":"wc3","k":"w","o":16,"x":134.3,"y":490},{"pan":"c","id":"wc3","k":"w","o":17,"x":141.8,"y":480},{"pan":"c","id":"wc3","k":"w","o":18,"x":150,"y":439},
{"pan":"c","id":"wc4","k":"w","o":0,"x":41.9,"y":28},{"pan":"c","id":"wc4","k":"w","o":1,"x":42.7,"y":151},{"pan":"c","id":"wc4","k":"w","o":2,"x":44.2,"y":223},{"pan":"c","id":"wc4","k":"w","o":3,"x":48.0,"y":285},{"pan":"c","id":"wc4","k":"w","o":4,"x":53.3,"y":357},{"pan":"c","id":"wc4","k":"w","o":5,"x":57.9,"y":428},{"pan":"c","id":"wc4","k":"w","o":6,"x":62.0,"y":531},{"pan":"c","id":"wc4","k":"w","o":7,"x":68.2,"y":582},{"pan":"c","id":"wc4","k":"w","o":8,"x":77.3,"y":582},{"pan":"c","id":"wc4","k":"w","o":9,"x":84.8,"y":490},{"pan":"c","id":"wc4","k":"w","o":10,"x":92.6,"y":459},{"pan":"c","id":"wc4","k":"w","o":11,"x":97.1,"y":357},{"pan":"c","id":"wc4","k":"w","o":12,"x":101.7,"y":285},{"pan":"c","id":"wc4","k":"w","o":13,"x":102.4,"y":203},{"pan":"c","id":"wc4","k":"w","o":14,"x":100.1,"y":151},{"pan":"c","id":"wc4","k":"w","o":15,"x":88.7,"y":80},{"pan":"c","id":"wc4","k":"w","o":16,"x":86.4,"y":8},
{"pan":"c","id":"wc5","k":"w","o":0,"x":132,"y":20},{"pan":"c","id":"wc5","k":"w","o":1,"x":134.3,"y":80},{"pan":"c","id":"wc5","k":"w","o":2,"x":142,"y":100},{"pan":"c","id":"wc5","k":"w","o":3,"x":150,"y":121}
],
"labels":[
{"pan":"a","t":"a","x":2.2,"y":3282},{"pan":"a","t":"Opt 2","x":112.4,"y":3292},
{"pan":"c","t":"c","x":2.2,"y":3230},{"pan":"c","t":"Opt 0","x":112.4,"y":3230}
]},
"vconcat":[
{"width":658,"height":380,
"layer":[
{"data":{"name":"fills"},"transform":[{"filter":"datum.pan==='a'"}],
"mark":{"type":"line","clip":true,"stroke":"black","strokeWidth":0.7},
"encoding":{
"x":{"field":"x","type":"quantitative","scale":{"domain":[0,150],"nice":false,"zero":false},"axis":{"orient":"bottom","values":[0,25,50,75,100,125,150],"title":"Radius (km)","labelPadding":11,"titlePadding":2}},
"y":{"field":"y","type":"quantitative","scale":{"domain":[100,4000],"nice":false,"zero":false},"axis":{"orient":"left","values":[500,1000,1500,2000,2500,3000,3500,4000],"format":"d","title":"Height (m)","labelPadding":15,"titlePadding":10}},
"detail":{"field":"id"},"order":{"field":"o","type":"quantitative"},
"fill":{"field":"lev","type":"ordinal","scale":{"domain":[1,2,3,4,5,6,7],"range":["#f2f2f2","#e5e5e5","#d9d9d9","#cccccc","#bfbfbf","#b3b3b3","#a6a6a6"]},"legend":null}}},
{"data":{"name":"lines"},"transform":[{"filter":"datum.pan==='a' && datum.k==='g'"}],
"mark":{"type":"line","clip":true,"stroke":"#808080","strokeWidth":5.5},
"encoding":{
"x":{"field":"x","type":"quantitative","scale":{"domain":[0,150],"nice":false,"zero":false},"axis":{"orient":"top","values":[0,25,50,75,100,125,150],"labels":false,"title":null}},
"y":{"field":"y","type":"quantitative","scale":{"domain":[100,4000],"nice":false,"zero":false},"axis":{"orient":"right","values":[500,1000,1500,2000,2500,3000,3500,4000],"labels":false,"title":"Height (m)","titleAngle":270,"titleBaseline":"top","titlePadding":1}},
"detail":{"field":"id"},"order":{"field":"o","type":"quantitative"}}},
{"data":{"name":"lines"},"transform":[{"filter":"datum.pan==='a' && datum.k==='b'"}],
"mark":{"type":"line","clip":true,"stroke":"black","strokeWidth":3},
"encoding":{
"x":{"field":"x","type":"quantitative","scale":{"domain":[0,150],"nice":false,"zero":false},"axis":null},
"y":{"field":"y","type":"quantitative","scale":{"domain":[100,4000],"nice":false,"zero":false},"axis":null},
"detail":{"field":"id"},"order":{"field":"o","type":"quantitative"}}},
{"data":{"name":"lines"},"transform":[{"filter":"datum.pan==='a' && datum.k==='w'"}],
"mark":{"type":"line","clip":true,"stroke":"white","strokeWidth":3.5},
"encoding":{
"x":{"field":"x","type":"quantitative","scale":{"domain":[0,150],"nice":false,"zero":false},"axis":null},
"y":{"field":"y","type":"quantitative","scale":{"domain":[100,4000],"nice":false,"zero":false},"axis":null},
"detail":{"field":"id"},"order":{"field":"o","type":"quantitative"}}},
{"data":{"name":"labels"},"transform":[{"filter":"datum.pan==='a'"}],
"mark":{"type":"text","font":"Liberation Sans","fontSize":58,"align":"left","baseline":"alphabetic","color":"black"},
"encoding":{
"x":{"field":"x","type":"quantitative","scale":{"domain":[0,150],"nice":false,"zero":false},"axis":null},
"y":{"field":"y","type":"quantitative","scale":{"domain":[100,4000],"nice":false,"zero":false},"axis":null},
"text":{"field":"t"}}}
],
"resolve":{"axis":{"x":"independent","y":"independent"}}},
{"width":658,"height":380,
"layer":[
{"data":{"name":"fills"},"transform":[{"filter":"datum.pan==='c'"}],
"mark":{"type":"line","clip":true,"stroke":"black","strokeWidth":0.7},
"encoding":{
"x":{"field":"x","type":"quantitative","scale":{"domain":[0,150],"nice":false,"zero":false},"axis":{"orient":"bottom","values":[0,25,50,75,100,125,150],"title":"Radius (km)","labelPadding":11,"titlePadding":2}},
"y":{"field":"y","type":"quantitative","scale":{"domain":[100,4000],"nice":false,"zero":false},"axis":{"orient":"left","values":[500,1000,1500,2000,2500,3000,3500,4000],"format":"d","title":"Height (m)","labelPadding":15,"titlePadding":10}},
"detail":{"field":"id"},"order":{"field":"o","type":"quantitative"},
"fill":{"field":"lev","type":"ordinal","scale":{"domain":[1,2,3,4,5,6,7],"range":["#f2f2f2","#e5e5e5","#d9d9d9","#cccccc","#bfbfbf","#b3b3b3","#a6a6a6"]},"legend":null}}},
{"data":{"name":"lines"},"transform":[{"filter":"datum.pan==='c' && datum.k==='g'"}],
"mark":{"type":"line","clip":true,"stroke":"#808080","strokeWidth":5.5},
"encoding":{
"x":{"field":"x","type":"quantitative","scale":{"domain":[0,150],"nice":false,"zero":false},"axis":{"orient":"top","values":[0,25,50,75,100,125,150],"labels":false,"title":null}},
"y":{"field":"y","type":"quantitative","scale":{"domain":[100,4000],"nice":false,"zero":false},"axis":{"orient":"right","values":[500,1000,1500,2000,2500,3000,3500,4000],"labels":false,"title":"Height (m)","titleAngle":270,"titleBaseline":"top","titlePadding":1}},
"detail":{"field":"id"},"order":{"field":"o","type":"quantitative"}}},
{"data":{"name":"lines"},"transform":[{"filter":"datum.pan==='c' && datum.k==='b'"}],
"mark":{"type":"line","clip":true,"stroke":"black","strokeWidth":3},
"encoding":{
"x":{"field":"x","type":"quantitative","scale":{"domain":[0,150],"nice":false,"zero":false},"axis":null},
"y":{"field":"y","type":"quantitative","scale":{"domain":[100,4000],"nice":false,"zero":false},"axis":null},
"detail":{"field":"id"},"order":{"field":"o","type":"quantitative"}}},
{"data":{"name":"lines"},"transform":[{"filter":"datum.pan==='c' && datum.k==='w'"}],
"mark":{"type":"line","clip":true,"stroke":"white","strokeWidth":3.5},
"encoding":{
"x":{"field":"x","type":"quantitative","scale":{"domain":[0,150],"nice":false,"zero":false},"axis":null},
"y":{"field":"y","type":"quantitative","scale":{"domain":[100,4000],"nice":false,"zero":false},"axis":null},
"detail":{"field":"id"},"order":{"field":"o","type":"quantitative"}}},
{"data":{"name":"labels"},"transform":[{"filter":"datum.pan==='c'"}],
"mark":{"type":"text","font":"Liberation Sans","fontSize":58,"align":"left","baseline":"alphabetic","color":"black"},
"encoding":{
"x":{"field":"x","type":"quantitative","scale":{"domain":[0,150],"nice":false,"zero":false},"axis":null},
"y":{"field":"y","type":"quantitative","scale":{"domain":[100,4000],"nice":false,"zero":false},"axis":null},
"text":{"field":"t"}}}
],
"resolve":{"axis":{"x":"independent","y":"independent"}}}
]}
